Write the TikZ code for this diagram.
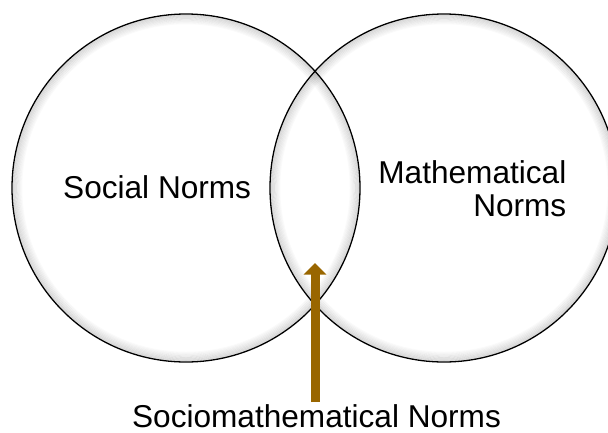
\documentclass[tikz,border=0pt]{standalone}
\usepackage{fontspec}
\setmainfont{Liberation Sans}
\usetikzlibrary{arrows.meta}
\definecolor{arrowbrown}{RGB}{153,102,0}
\tikzset{
  rimring/.style={line width=1.3pt, draw=black},
  normoutline/.style={circle, minimum size=348pt, inner sep=0pt, draw=black, line width=1.3pt},
  normtext/.style={font=\fontsize{31.6}{33}\selectfont, inner sep=0pt, text=black, text depth=0pt},
  pointer/.style={arrowbrown, line width=9pt, -{Triangle[width=22pt,length=11.5pt]}}
}
\begin{document}
\begin{tikzpicture}[x=1pt,y=-1pt]
\useasboundingbox (0,0) rectangle (608,432);
\clip (0,0) rectangle (608,432);
\fill[white] (0,0) rectangle (608,432);
% soft inner rim glow
\foreach \k in {0,...,7}{
  \pgfmathsetmacro{\op}{(13-1.6*\k)/100}
  \pgfmathsetmacro{\r}{172.8-1.2*\k}
  \draw[rimring, draw opacity=\op] (186,188) circle (\r);
  \draw[rimring, draw opacity=\op] (444,188) circle (\r);
}
% outlines
\node[normoutline] (L) at (186,188) {};
\node[normoutline] (R) at (444,188) {};
% labels
\node[normtext, anchor=base west] (social) at (63,198) {Social Norms};
\node[normtext, anchor=base east] (math1) at (566.5,183) {Mathematical};
\node[normtext, anchor=base east] (math2) at (566.5,216) {Norms};
\node[normtext, anchor=base] (socio) at (316.5,427) {Sociomathematical Norms};
% arrow
\coordinate (abot) at (315,402);
\coordinate (atip) at (315,263);
\draw[pointer] (abot) -- (atip);
\end{tikzpicture}
\end{document}
